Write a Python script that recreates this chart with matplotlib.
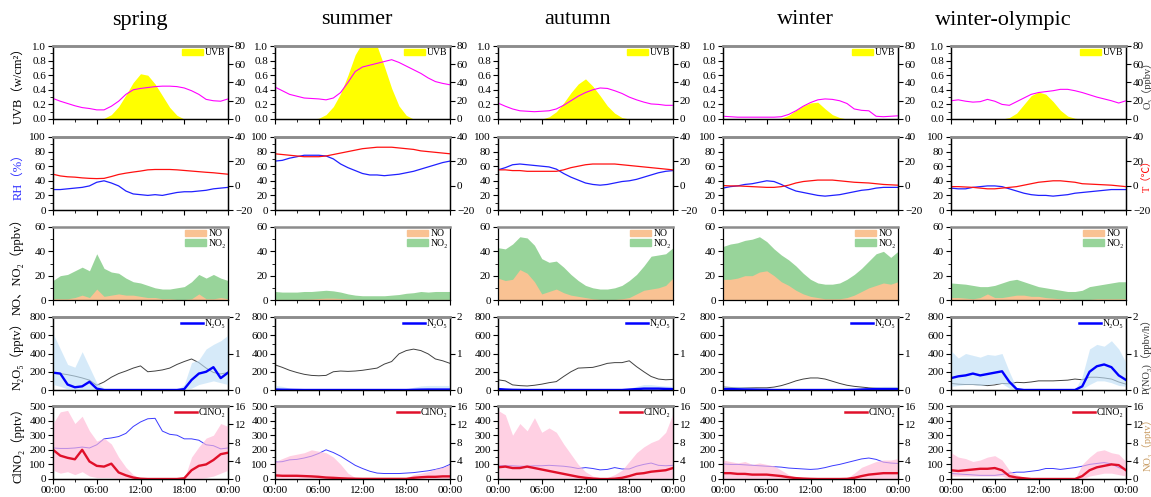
import matplotlib
matplotlib.use('Agg')
import matplotlib.pyplot as plt
from matplotlib.patches import Patch
from matplotlib.lines import Line2D
from matplotlib.ticker import MultipleLocator, FixedLocator, FormatStrFormatter

plt.rcParams['font.family'] = ['Liberation Serif', 'Noto Sans CJK SC', 'DejaVu Serif']

seasons = ['spring', 'summer', 'autumn', 'winter', 'winter-olympic']
hours = list(range(25))
time_ticks = [0, 6, 12, 18, 24]
time_labels = ['00:00', '06:00', '12:00', '18:00', '00:00']

# UVB (w/cm2), hourly
uvb = {
    'spring': [0, 0, 0, 0, 0, 0, 0, 0.01, 0.06, 0.17, 0.33, 0.5, 0.62, 0.6, 0.48, 0.32, 0.16, 0.05, 0, 0, 0, 0, 0, 0, 0],
    'summer': [0, 0, 0, 0, 0, 0, 0.01, 0.06, 0.17, 0.35, 0.6, 0.88, 1.05, 1.05, 1.0, 0.72, 0.42, 0.18, 0.05, 0, 0, 0, 0, 0, 0],
    'autumn': [0, 0, 0, 0, 0, 0, 0, 0.03, 0.1, 0.22, 0.36, 0.48, 0.55, 0.45, 0.32, 0.18, 0.08, 0.02, 0, 0, 0, 0, 0, 0, 0],
    'winter': [0, 0, 0, 0, 0, 0, 0, 0, 0.01, 0.05, 0.12, 0.18, 0.22, 0.23, 0.14, 0.06, 0.02, 0, 0, 0, 0, 0, 0, 0, 0],
    'winter-olympic': [0, 0, 0, 0, 0, 0, 0, 0, 0.02, 0.08, 0.2, 0.32, 0.37, 0.34, 0.24, 0.12, 0.04, 0.01, 0, 0, 0, 0, 0, 0, 0],
}
# O3 (ppbv)
o3 = {
    'spring': [22.5, 19.5, 17, 14.5, 12.5, 11.5, 10, 10, 14, 19.5, 27, 32, 33.5, 34.5, 35.5, 36, 36, 35.5, 34, 31, 27, 21.5, 20, 19.5, 22],
    'summer': [35, 31, 27, 25, 23, 22.5, 22, 21, 23, 29, 40, 52, 57, 59, 61, 63, 65, 62, 58, 54, 50, 45, 41, 39, 37.5],
    'autumn': [17.5, 14, 11, 9, 8.5, 8, 8.5, 9, 11, 15, 20, 25, 29, 32, 34, 33.5, 31, 28, 24, 21, 18.5, 16.5, 16, 15, 15],
    'winter': [3, 2.5, 2, 2, 2, 2, 2, 2, 2.5, 5, 9, 14, 18, 21, 22, 21.5, 20, 17, 11, 9.5, 9, 3, 2.5, 3, 3.5],
    'winter-olympic': [20, 21, 19.5, 18.5, 19, 21.5, 19.5, 16, 15, 19, 23, 27, 29, 30, 31, 32.5, 32.5, 31, 29, 26.5, 24, 22, 20, 17.5, 20],
}
# RH (%)
rh = {
    'spring': [28, 28, 29, 30, 31, 33, 38, 40, 37, 33, 26, 22, 21, 20, 21, 20, 22, 24, 25, 25, 26, 27, 29, 30, 31],
    'summer': [67, 68, 71, 73, 75, 75, 75, 74, 70, 63, 58, 54, 50, 48, 48, 47, 48, 49, 51, 53, 56, 59, 62, 65, 67],
    'autumn': [55, 58, 62, 63, 62, 61, 60, 59, 56, 50, 45, 41, 37, 35, 34, 35, 37, 39, 40, 42, 45, 48, 51, 53, 54],
    'winter': [30, 32, 33, 35, 36, 38, 40, 39, 35, 30, 26, 24, 22, 20, 19, 20, 21, 23, 25, 27, 28, 30, 31, 31, 31],
    'winter-olympic': [30, 29, 29, 31, 32, 33, 33, 32, 29, 26, 23, 21, 20, 20, 19, 20, 21, 23, 24, 25, 26, 27, 28, 28, 28],
}
# T (degC)
temp = {
    'spring': [9.4, 8, 7.3, 7, 6.4, 6, 5.8, 6, 7.5, 9.2, 10.3, 11.2, 12, 13, 13.3, 13.3, 13.3, 13, 12.5, 12, 11.5, 11, 10.6, 10, 9.4],
    'summer': [26.2, 25.6, 25, 24.4, 23.8, 23.8, 23.8, 24.4, 25.6, 26.8, 28, 29.2, 30.4, 31, 31.6, 31.6, 31.6, 31, 30.4, 29.8, 28.6, 28, 27.4, 26.8, 26.2],
    'autumn': [13, 13, 12.4, 12.4, 11.8, 11.8, 11.8, 11.8, 11.8, 13, 14.8, 16, 17.2, 17.8, 17.8, 17.8, 17.8, 17.2, 16.6, 16, 15.4, 14.8, 14.2, 13.6, 13],
    'winter': [0.1, -0.2, -0.2, -0.5, -0.8, -1.1, -1.4, -1.4, -0.8, 0.4, 2.2, 3.4, 4, 4.6, 4.6, 4.6, 4, 3.4, 2.8, 2.5, 2.2, 1.6, 1, 0.7, 0.4],
    'winter-olympic': [-0.8, -0.8, -1.1, -1.4, -2, -2.6, -2.6, -2, -1.4, -0.8, 0.4, 1.6, 2.8, 3.4, 4, 4, 3.4, 2.8, 1.6, 1.3, 1, 0.7, 0.4, -0.2, -0.8],
}
# NO and NO2 (ppbv)
no = {
    'spring': [1, 1, 1, 2, 4, 2, 9, 3, 4, 5, 4, 4, 3, 2, 2, 1, 1, 0.5, 0.5, 1, 5, 1, 1, 2, 1],
    'summer': [0.5, 0.5, 0.5, 0.5, 0.6, 0.8, 1.2, 1.5, 1.5, 1.2, 0.8, 0.5, 0.4, 0.4, 0.4, 0.4, 0.4, 0.4, 0.4, 0.4, 0.5, 0.5, 0.5, 0.5, 0.5],
    'autumn': [18, 16, 17, 25, 22, 15, 5, 7, 9, 6, 4, 3, 2, 1, 0.5, 0.5, 0.5, 1, 2, 5, 8, 9, 10, 12, 18],
    'winter': [17, 17, 18, 20, 20, 23, 24, 20, 15, 12, 8, 5, 3, 2, 1, 1, 1, 2, 4, 7, 10, 12, 14, 13, 15],
    'winter-olympic': [2, 2, 1.5, 1, 2, 5, 2, 2, 3, 4, 4, 3, 3, 2, 1.5, 1, 1, 0.5, 0.5, 0.5, 1, 1, 1, 1, 1],
}
no2 = {
    'spring': [16, 20, 21, 24, 27, 24, 38, 26, 23, 22, 18, 15, 14, 12, 10, 9, 9, 10, 11, 15, 21, 18, 21, 18, 16],
    'summer': [7, 6.5, 6.5, 6.5, 7, 7, 7.5, 8, 7.5, 6.5, 5, 4, 3.5, 3.5, 3.5, 3.5, 4, 4.5, 5.5, 6, 7, 6.5, 7, 7, 7],
    'autumn': [43, 42, 46, 52, 51, 45, 34, 31, 32, 27, 21, 16, 12, 10, 9, 9, 10, 12, 16, 21, 28, 36, 37, 38, 43],
    'winter': [44, 46, 47, 49, 50, 52, 48, 42, 37, 33, 28, 22, 17, 14, 13, 13, 14, 17, 21, 26, 32, 38, 40, 35, 40],
    'winter-olympic': [14, 13.5, 13, 12, 11, 11, 12, 14, 16, 17, 15, 13, 11, 10, 9, 8, 7, 7, 8, 11, 12, 13, 14, 15, 15],
}
# N2O5 (pptv) mean and shaded range, P(NO3) (ppbv/h)
n2o5 = {
    'spring': [190, 180, 60, 30, 40, 90, 15, 0, 0, 0, 0, 0, 0, 0, 0, 0, 0, 0, 10, 110, 180, 200, 250, 130, 190],
    'summer': [5, 3, 2, 1, 0, 0, 0, 0, 0, 0, 0, 0, 0, 0, 0, 0, 0, 0, 0, 2, 4, 5, 5, 5, 5],
    'autumn': [10, 5, 2, 1, 0, 0, 0, 0, 0, 0, 0, 0, 0, 0, 0, 0, 0, 0, 5, 10, 15, 15, 15, 12, 10],
    'winter': [10, 10, 8, 6, 5, 3, 2, 0, 0, 0, 0, 0, 0, 0, 0, 0, 0, 0, 2, 5, 8, 10, 10, 10, 10],
    'winter-olympic': [130, 150, 160, 180, 160, 175, 190, 205, 90, 10, 0, 0, 0, 0, 0, 0, 0, 0, 40, 200, 260, 280, 250, 160, 110],
}
n2o5_hi = {
    'spring': [620, 450, 280, 250, 420, 250, 80, 20, 0, 0, 0, 0, 0, 0, 0, 0, 0, 0, 60, 300, 330, 450, 500, 540, 600],
    'summer': [50, 40, 20, 10, 0, 0, 0, 0, 0, 0, 0, 0, 0, 0, 0, 0, 0, 0, 10, 30, 45, 50, 50, 50, 50],
    'autumn': [30, 20, 10, 5, 0, 0, 0, 0, 0, 0, 0, 0, 0, 0, 0, 0, 0, 0, 20, 40, 60, 60, 50, 45, 40],
    'winter': [40, 40, 40, 35, 30, 25, 20, 10, 0, 0, 0, 0, 0, 0, 0, 0, 0, 0, 10, 20, 30, 35, 40, 40, 40],
    'winter-olympic': [430, 350, 400, 380, 360, 390, 380, 400, 200, 20, 0, 0, 0, 0, 0, 0, 0, 0, 150, 450, 500, 480, 540, 450, 300],
}
n2o5_lo = {
    'spring': [60, 40, 10, 0, 0, 0, 0, 0, 0, 0, 0, 0, 0, 0, 0, 0, 0, 0, 0, 20, 60, 80, 100, 80, 60],
    'summer': [0] * 25,
    'autumn': [0] * 25,
    'winter': [0] * 25,
    'winter-olympic': [40, 50, 60, 60, 50, 60, 70, 70, 20, 0, 0, 0, 0, 0, 0, 0, 0, 0, 10, 60, 100, 100, 80, 50, 40],
}
pno3 = {
    'spring': [0.48, 0.45, 0.42, 0.38, 0.33, 0.27, 0.13, 0.22, 0.35, 0.45, 0.52, 0.6, 0.66, 0.5, 0.52, 0.55, 0.6, 0.7, 0.78, 0.85, 0.75, 0.6, 0.48, 0.44, 0.48],
    'summer': [0.69, 0.62, 0.54, 0.48, 0.43, 0.4, 0.39, 0.4, 0.5, 0.52, 0.51, 0.52, 0.54, 0.57, 0.6, 0.71, 0.78, 0.99, 1.08, 1.12, 1.08, 0.99, 0.85, 0.8, 0.73],
    'autumn': [0.28, 0.25, 0.14, 0.12, 0.11, 0.13, 0.16, 0.2, 0.23, 0.37, 0.5, 0.6, 0.61, 0.62, 0.67, 0.73, 0.75, 0.75, 0.8, 0.64, 0.5, 0.37, 0.3, 0.28, 0.29],
    'winter': [0.08, 0.07, 0.06, 0.06, 0.06, 0.06, 0.06, 0.08, 0.12, 0.18, 0.25, 0.3, 0.33, 0.33, 0.3, 0.24, 0.18, 0.13, 0.1, 0.08, 0.06, 0.05, 0.05, 0.05, 0.05],
    'winter-olympic': [0.18, 0.16, 0.15, 0.15, 0.14, 0.12, 0.14, 0.18, 0.17, 0.21, 0.2, 0.22, 0.25, 0.25, 0.25, 0.26, 0.27, 0.3, 0.28, 0.35, 0.35, 0.33, 0.3, 0.22, 0.16],
}
# ClNO2 (pptv) mean and shaded range, NO3 (pptv)
clno2 = {
    'spring': [200, 160, 145, 135, 200, 120, 90, 85, 105, 45, 25, 10, 2, 0, 0, 0, 0, 0, 5, 60, 90, 100, 130, 170, 180],
    'summer': [25, 22, 22, 22, 20, 18, 15, 10, 8, 5, 3, 2, 1, 1, 1, 1, 1, 1, 1, 8, 12, 15, 15, 18, 18],
    'autumn': [80, 85, 75, 75, 85, 75, 65, 55, 45, 35, 25, 15, 8, 3, 0, 0, 2, 8, 20, 35, 40, 50, 55, 60, 75],
    'winter': [40, 40, 35, 35, 30, 30, 30, 25, 20, 12, 6, 3, 1, 0, 0, 0, 0, 1, 8, 20, 30, 35, 40, 40, 40],
    'winter-olympic': [60, 55, 60, 65, 70, 70, 75, 60, 20, 10, 5, 0, 0, 0, 0, 0, 0, 0, 20, 60, 80, 90, 100, 95, 60],
}
clno2_hi = {
    'spring': [380, 460, 470, 380, 430, 330, 260, 280, 240, 150, 80, 30, 0, 0, 0, 0, 0, 0, 0, 150, 220, 280, 300, 380, 360],
    'summer': [120, 140, 160, 170, 180, 200, 190, 180, 150, 100, 40, 10, 0, 0, 0, 0, 0, 0, 10, 30, 40, 50, 70, 80, 100],
    'autumn': [470, 440, 300, 380, 330, 420, 320, 350, 320, 240, 170, 100, 50, 20, 10, 10, 30, 60, 120, 180, 220, 250, 270, 320, 450],
    'winter': [130, 120, 110, 120, 100, 110, 100, 90, 60, 30, 10, 5, 0, 0, 0, 0, 0, 5, 40, 80, 100, 120, 130, 130, 140],
    'winter-olympic': [180, 150, 140, 120, 130, 150, 160, 130, 60, 30, 10, 0, 0, 0, 0, 0, 0, 0, 100, 150, 190, 200, 180, 170, 120],
}
clno2_lo = {
    'spring': [60, 40, 50, 30, 50, 20, 10, 10, 10, 0, 0, 0, 0, 0, 0, 0, 0, 0, 0, 0, 0, 10, 20, 40, 60],
    'summer': [0] * 25,
    'autumn': [10, 5, 0, 0, 0, 0, 0, 0, 0, 0, 0, 0, 0, 0, 0, 0, 0, 0, 0, 0, 0, 0, 5, 5, 10],
    'winter': [0] * 25,
    'winter-olympic': [20, 20, 20, 20, 20, 20, 20, 20, 0, 0, 0, 0, 0, 0, 0, 0, 0, 0, 0, 20, 30, 40, 40, 30, 20],
}
no3 = {
    'spring': [6.8, 6.7, 6.7, 6.8, 7, 6.8, 7.5, 8.8, 9, 9.3, 10, 11.5, 12.5, 13.2, 13.3, 10.5, 9.8, 9.6, 8.8, 8.8, 8.5, 7.5, 7.3, 6.6, 6.8],
    'summer': [3.7, 3.8, 4.2, 4.3, 4.6, 5, 5.6, 6.4, 5.8, 5, 4, 3, 2.3, 1.7, 1.3, 1.2, 1.2, 1.2, 1.3, 1.4, 1.6, 1.8, 2.1, 2.5, 3.2],
    'autumn': [2.9, 2.9, 2.9, 2.8, 2.8, 2.9, 2.9, 3, 2.9, 2.8, 2.6, 2.3, 2.5, 2.3, 2, 2.1, 2.5, 2.2, 2.2, 2.8, 3.2, 3.5, 3, 2.9, 3],
    'winter': [3.3, 3.2, 3.2, 3.1, 3, 2.9, 2.8, 2.7, 2.6, 2.4, 2.3, 2.2, 2.1, 2.2, 2.5, 2.9, 3.2, 3.6, 4, 4.4, 4.6, 4.3, 3.7, 3.5, 3.4],
    'winter-olympic': [1.2, 1.1, 1, 0.9, 0.8, 0.8, 0.8, 1, 1.3, 1.5, 1.5, 1.7, 1.9, 2.3, 2.3, 2.1, 2.3, 2.5, 2.8, 3.2, 3.4, 3.6, 3.3, 2.5, 2],
}

W, H = 1151, 497
fig = plt.figure(figsize=(W / 100, H / 100), dpi=100)

col_left = [53, 275, 498, 723, 951]
row_top = [46, 137, 227, 317, 406]
aw, ah = 175, 73
title_x = [140, 357, 578, 805, 1003]

left_labels = ['UVB（w/cm²）', 'RH（%）', 'NO、NO₂（ppbv）', 'N₂O₅（pptv）', 'ClNO₂（pptv）']
left_label_colors = ['black', '#3030ff', 'black', 'black', 'black']
right_labels = ['O₃（ppbv）', 'T（℃）', None, 'P(NO₃)（ppbv/h）', 'NO₃（pptv）']
right_label_colors = ['#333333', '#ff0000', None, '#333333', '#c89a60']

left_lims = [(0, 1.0, 0.2, 0.1), (0, 100, 20, 10), (0, 60, 20, 10), (0, 800, 200, 100), (0, 500, 100, 50)]
right_lims = [(0, 80, 20), (-20, 40, 20), None, (0, 2, 1), (0, 16, 4)]

FS = 8


def style_axis(a, bottom_labels):
    a.set_xlim(0, 24)
    a.xaxis.set_major_locator(FixedLocator(time_ticks))
    a.xaxis.set_minor_locator(MultipleLocator(3))
    a.set_xticklabels(time_labels)
    a.tick_params(axis='both', which='major', direction='out', length=3.5, width=0.8,
                  labelsize=FS, pad=1.5)
    a.tick_params(axis='both', which='minor', direction='out', length=2, width=0.6)
    a.tick_params(axis='x', labelbottom=bottom_labels)
    for sp in ['left', 'right', 'bottom']:
        a.spines[sp].set_linewidth(0.9)
    a.spines['top'].set_color('#8c8c8c')
    a.spines['top'].set_linewidth(1.8)


legend_kw = dict(loc='upper right', frameon=False, fontsize=7, handlelength=2.2,
                 handletextpad=0.2, borderpad=0.1, borderaxespad=0.15, labelspacing=0.05)

for c, s in enumerate(seasons):
    fig.text(title_x[c] / W, 1 - 20 / H, s, ha='center', va='center', fontsize=16)
    for r in range(5):
        ax = fig.add_axes([col_left[c] / W, 1 - (row_top[r] + ah) / H, aw / W, ah / H])
        lo, hi, maj, mnr = left_lims[r]
        ax2 = None
        if right_lims[r] is not None:
            ax2 = ax.twinx()

        if r == 0:
            ax.fill_between(hours, 0, uvb[s], color='#ffff00', lw=0)
            ax2.plot(hours, o3[s], color='#ff00ff', lw=0.8)
            ax.legend(handles=[Patch(color='#ffff00', label='UVB')], **legend_kw)
        elif r == 1:
            ax.plot(hours, rh[s], color='#2020ff', lw=0.9)
            ax2.plot(hours, temp[s], color='#ff1010', lw=0.9)
        elif r == 2:
            ax.fill_between(hours, 0, no2[s], color='#98d49a', lw=0)
            ax.fill_between(hours, 0, no[s], color='#f9c293', lw=0)
            ax.legend(handles=[Patch(color='#f9c293', label='NO'),
                               Patch(color='#98d49a', label='NO₂')], **legend_kw)
        elif r == 3:
            # band drawn over the lines, as in the original
            ax.set_zorder(ax2.get_zorder() + 1)
            ax.patch.set_visible(False)
            ax2.plot(hours, pno3[s], color='#404040', lw=0.7)
            ax.plot(hours, n2o5[s], color='#0000ff', lw=1.7)
            ax.fill_between(hours, n2o5_lo[s], n2o5_hi[s], color='#c0e0f7', alpha=0.65, lw=0)
            ax.legend(handles=[Line2D([], [], color='#0000ff', lw=1.8, label='N₂O₅')], **legend_kw)
        else:
            ax.set_zorder(ax2.get_zorder() + 1)
            ax.patch.set_visible(False)
            ax2.plot(hours, no3[s], color='#3a3aff', lw=0.7)
            ax.plot(hours, clno2[s], color='#e0102a', lw=1.7)
            ax.fill_between(hours, clno2_lo[s], clno2_hi[s], color='#ffb7d5', alpha=0.65, lw=0)
            ax.legend(handles=[Line2D([], [], color='#e0102a', lw=1.8, label='ClNO₂')], **legend_kw)

        ax.set_ylim(lo, hi)
        ax.yaxis.set_major_locator(MultipleLocator(maj))
        ax.yaxis.set_minor_locator(MultipleLocator(mnr))
        if r == 0:
            ax.yaxis.set_major_formatter(FormatStrFormatter('%.1f'))
        style_axis(ax, r == 4)
        if r == 2:
            ax.tick_params(axis='y', which='both', right=False)

        if ax2 is not None:
            rlo, rhi, rmaj = right_lims[r]
            ax2.set_ylim(rlo, rhi)
            ax2.yaxis.set_major_locator(MultipleLocator(rmaj))
            style_axis(ax2, r == 4)
            ax2.tick_params(axis='x', which='both', bottom=False, labelbottom=False)

        if c == 0:
            ax.set_ylabel(left_labels[r], fontsize=9, color=left_label_colors[r])
            ax.yaxis.set_label_coords(-0.165, 0.5)
        if c == 4 and ax2 is not None:
            ax2.set_ylabel(right_labels[r], fontsize=7.5, color=right_label_colors[r])
            ax2.yaxis.set_label_coords(1.09, 0.5)

fig.savefig('out.png', dpi=100)
